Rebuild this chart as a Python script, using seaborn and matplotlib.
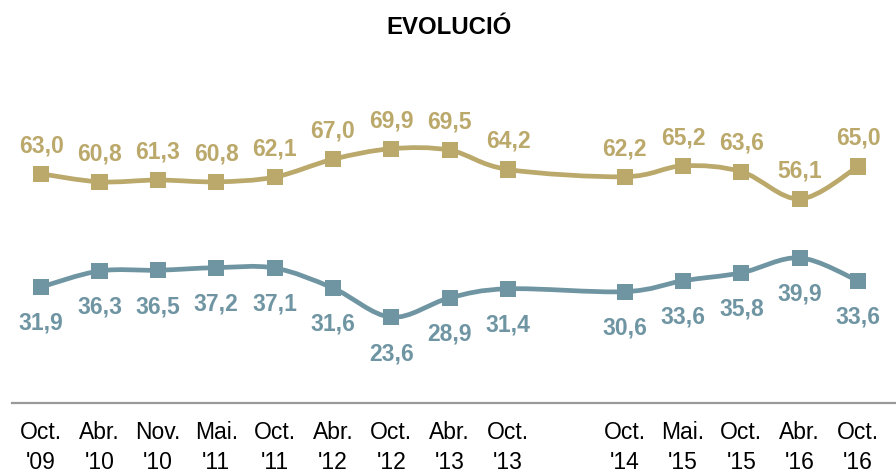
import numpy as np
import pandas as pd
import matplotlib
matplotlib.use("Agg")
import matplotlib.pyplot as plt
from matplotlib.path import Path
from matplotlib.patches import PathPatch
import seaborn as sns

# ---- data ----
tick_labels = ["Oct.\n'09", "Abr.\n'10", "Nov.\n'10", "Mai.\n'11", "Oct.\n'11",
               "Abr.\n'12", "Oct.\n'12", "Abr.\n'13", "Oct.\n'13",
               "Oct.\n'14", "Mai.\n'15", "Oct.\n'15", "Abr.\n'16", "Oct.\n'16"]
x_pos = [0, 1, 2, 3, 4, 5, 6, 7, 8, 10, 11, 12, 13, 14]
gold_vals = [63.0, 60.8, 61.3, 60.8, 62.1, 67.0, 69.9, 69.5, 64.2,
             62.2, 65.2, 63.6, 56.1, 65.0]
blue_vals = [31.9, 36.3, 36.5, 37.2, 37.1, 31.6, 23.6, 28.9, 31.4,
             30.6, 33.6, 35.8, 39.9, 33.6]

GOLD = "#BBA86B"
BLUE = "#6F95A3"

sns.set_theme(style="white")
plt.rcParams['font.family'] = ['Liberation Sans', 'DejaVu Sans']

fig = plt.figure(figsize=(8.96, 4.77), dpi=100)
ax = fig.add_axes([12/896, 1-404/477, 1-12/896, (404-113)/477])

df = pd.DataFrame({"x": x_pos * 2,
                   "v": gold_vals + blue_vals,
                   "s": ["g"] * len(x_pos) + ["b"] * len(x_pos)})


def smooth_path(xs, ys):
    xs = np.asarray(xs, float); ys = np.asarray(ys, float)
    pts = np.column_stack([xs, ys])
    n = len(pts)
    verts = [pts[0]]; codes = [Path.MOVETO]
    for i in range(n - 1):
        p0 = pts[i - 1] if i > 0 else pts[i]
        p1 = pts[i]; p2 = pts[i + 1]
        p3 = pts[i + 2] if i + 2 < n else pts[i + 1]
        c1 = p1 + (p2 - p0) / 6.0
        c2 = p2 - (p3 - p1) / 6.0
        verts += [c1, c2, p2]
        codes += [Path.CURVE4] * 3
    return Path(verts, codes)


for vals, col in [(gold_vals, GOLD), (blue_vals, BLUE)]:
    ax.add_patch(PathPatch(smooth_path(x_pos, vals), fill=False, edgecolor=col,
                           lw=3.4, capstyle='round', joinstyle='round', zorder=2))

sns.scatterplot(data=df, x="x", y="v", hue="s", palette={"g": GOLD, "b": BLUE},
                marker="s", s=135, linewidth=0, legend=False, ax=ax, zorder=3,
                clip_on=False)

for x, v in zip(x_pos, gold_vals):
    ax.annotate(f"{v:.1f}".replace(".", ","), (x, v), xytext=(0, 21),
                textcoords="offset points", ha="center", va="center",
                fontsize=16.5, fontweight="bold", color=GOLD)
for x, v in zip(x_pos, blue_vals):
    ax.annotate(f"{v:.1f}".replace(".", ","), (x, v), xytext=(0, -25.5),
                textcoords="offset points", ha="center", va="center",
                fontsize=16.5, fontweight="bold", color=BLUE)

ax.set_xlim(-0.5, 14.65)
ax.set_ylim(0, 80)
ax.set_xticks(x_pos)
ax.set_xticklabels(tick_labels, fontsize=16.5, color="black", linespacing=1.42)
ax.set_yticks([])
ax.tick_params(axis="x", length=0, pad=12)
ax.set_xlabel(""); ax.set_ylabel("")
for s in ["top", "right", "left"]:
    ax.spines[s].set_visible(False)
ax.spines["bottom"].set_color("#999999")
ax.spines["bottom"].set_linewidth(1.6)

fig.text(449/896, 1-27/477, "EVOLUCIÓ", ha="center", va="center",
         fontsize=17.3, fontweight="bold", color="black")

fig.savefig("out.png", dpi=100)
